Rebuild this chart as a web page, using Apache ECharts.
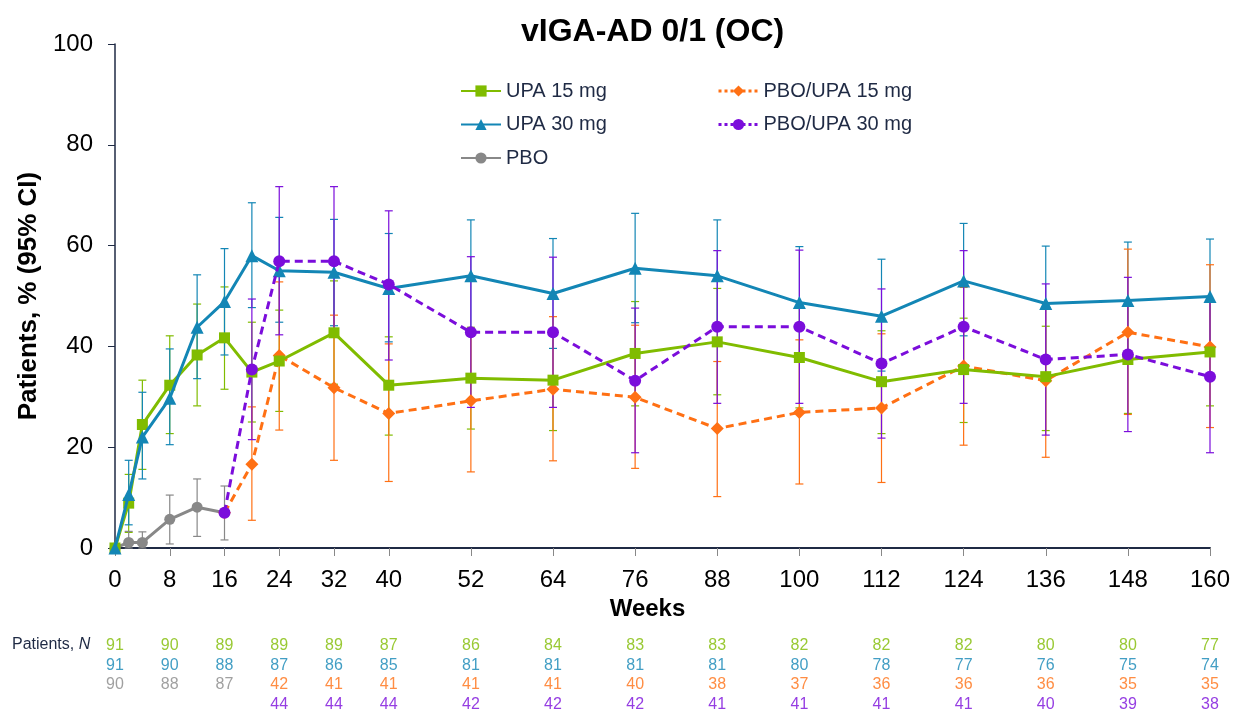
<!DOCTYPE html>
<html><head><meta charset="utf-8">
<script src="https://cdn.jsdelivr.net/npm/echarts@6/dist/echarts.min.js"></script>
<style>html,body{margin:0;padding:0;background:#fff}#c{width:1239px;height:715px}</style>
</head><body><div id="c"></div>
<script>
// ---- data ----
const tickWeeks = [0,8,16,24,32,40,52,64,76,88,100,112,124,136,148,160];
const upaWeeks = [0,2,4,8,12,16,20,24,32,40,52,64,76,88,100,112,124,136,148,160];
const upa15   = [0,8.9,24.5,32.3,38.3,41.7,34.9,37.1,42.7,32.3,33.7,33.3,38.6,40.9,37.8,33.0,35.4,34.0,37.4,38.9];
const upa15Lo = [0,3.1,15.6,22.7,28.2,31.5,25.0,27.1,32.5,22.4,23.6,23.3,28.2,30.4,27.8,22.7,24.9,23.3,26.7,28.2];
const upa15Hi = [0,14.6,33.3,42.1,48.4,51.8,44.8,47.2,53.0,41.9,43.8,43.3,48.9,51.5,47.8,43.1,45.6,44.0,48.2,49.5];
const upa30   = [0,10.6,22.0,29.7,43.8,48.9,58.0,55.0,54.7,51.5,54.0,50.5,55.5,54.0,48.7,46.0,53.0,48.5,49.1,49.9];
const upa30Lo = [0,4.6,13.7,20.5,33.6,38.3,47.7,44.8,44.1,40.9,43.0,39.6,44.7,43.2,37.8,35.1,42.1,37.5,38.0,38.5];
const upa30Hi = [0,17.4,30.9,39.5,54.2,59.4,68.5,65.6,65.2,62.4,65.1,61.4,66.4,65.1,59.8,57.3,64.4,59.9,60.7,61.3];
const pboWeeks = [0,2,4,8,12,16];
const pbo   = [0,1.1,1.1,5.7,8.1,7.0];
const pboLo = [0,0,0,0.8,2.3,1.6];
const pboHi = [0,3.3,3.2,10.5,13.7,12.3];
const swWeeks = [16,20,24,32,40,52,64,76,88,100,112,124,136,148,160];
const pboUpa15   = [7.0,16.6,38.2,31.8,26.7,29.2,31.5,29.9,23.7,26.9,27.8,36.1,33.2,42.8,39.9];
const pboUpa15Lo = [null,5.5,23.4,17.4,13.2,15.1,17.3,15.8,10.2,12.7,13.0,20.4,18.0,26.5,23.9];
const pboUpa15Hi = [null,28.0,52.8,46.2,40.5,43.3,45.9,44.2,37.0,41.3,42.5,51.7,48.4,59.3,56.2];
const pboUpa30   = [7.0,35.4,56.9,56.9,52.3,42.8,42.8,33.2,43.9,43.9,36.6,43.9,37.4,38.4,34.0];
const pboUpa30Lo = [null,21.5,42.3,42.0,37.3,27.9,27.9,18.9,28.7,28.7,21.8,28.7,22.4,23.1,18.9];
const pboUpa30Hi = [null,49.4,71.7,71.7,66.9,57.8,57.7,47.6,59.0,59.1,51.4,59.0,52.4,53.7,49.0];
// patients N table
const nWeeks = [0,8,16,24,32,40,52,64,76,88,100,112,124,136,148,160];
const nUpa15 = [91,90,89,89,89,87,86,84,83,83,82,82,82,80,80,77];
const nUpa30 = [91,90,88,87,86,85,81,81,81,81,80,78,77,76,75,74];
const nPboWeeks = [0,8,16];
const nPbo = [90,88,87];
const nSwWeeks = [24,32,40,52,64,76,88,100,112,124,136,148,160];
const nPboUpa15 = [42,41,41,41,41,40,38,37,36,36,36,35,35];
const nPboUpa30 = [44,44,44,42,42,42,41,41,41,41,40,39,38];

const C = {g:'#80BC00', b:'#1386B5', gr:'#888888', o:'#FF7014', p:'#7B0DDB'};
const FONT = '"Liberation Sans", Arial, sans-serif';

function pts(w, v){ return w.map((x,i)=>[x, v[i]]); }
function errPts(w, lo, hi){ const r=[]; w.forEach((x,i)=>{ if(lo[i]!=null && hi[i]>lo[i]) r.push([x,lo[i],hi[i]]); }); return r; }
function errSeries(name, data, color){
  return {type:'custom', name:name, xAxisIndex:0, yAxisIndex:0, z:1, silent:true,
    encode:{x:0, y:[1,2]}, data:data,
    renderItem:function(params, api){
      const x=api.value(0), lo=api.value(1), hi=api.value(2);
      const a=api.coord([x,hi]), b=api.coord([x,lo]); const w=4;
      const st={stroke:color, lineWidth:1.2};
      return {type:'group', children:[
        {type:'line', shape:{x1:a[0],y1:a[1],x2:b[0],y2:b[1]}, style:st},
        {type:'line', shape:{x1:a[0]-w,y1:a[1],x2:a[0]+w,y2:a[1]}, style:st},
        {type:'line', shape:{x1:b[0]-w,y1:b[1],x2:b[0]+w,y2:b[1]}, style:st}
      ]};
    }};
}
function lineSeries(name, data, color, symbol, size, dashed, z){
  return {type:'line', name:name, data:data, xAxisIndex:0, yAxisIndex:0, z:z,
    symbol:symbol, symbolSize:size, showSymbol:true,
    itemStyle:{color:color},
    lineStyle:{color:color, width:3, type: dashed ? [8,5] : 'solid'}};
}
function nSeries(name, w, v, row, color){
  return {type:'scatter', name:name, xAxisIndex:1, yAxisIndex:1, symbolSize:0,
    data:w.map((x,i)=>[x,row,v[i]]),
    label:{show:true, position:'inside', formatter:p=>String(p.value[2]), color:color, fontSize:16, fontFamily:FONT}};
}

const chart = echarts.init(document.getElementById('c'));
chart.setOption({
  animation:false,
  title:{text:'vIGA-AD 0/1 (OC)', left:516, top:11, textStyle:{fontSize:32, fontWeight:'bold', color:'#000', fontFamily:FONT}},
  legend:[
    {data:['UPA 15 mg','UPA 30 mg','PBO'], orient:'vertical', left:455, top:76, itemWidth:40, itemHeight:14, itemGap:13.5,
     textStyle:{fontSize:20, color:'#1F2A44', fontFamily:FONT}},
    {data:['PBO/UPA 15 mg','PBO/UPA 30 mg'], orient:'vertical', left:712, top:76, itemWidth:40, itemHeight:14, itemGap:13.5,
     lineStyle:{type:'dotted', width:3},
     textStyle:{fontSize:20, color:'#1F2A44', fontFamily:FONT}}
  ],
  grid:[
    {left:115, right:29, top:44, bottom:167},
    {left:115, right:29, top:636, height:78}
  ],
  xAxis:[
    {type:'value', gridIndex:0, min:0, max:160,
     name:'Weeks', nameLocation:'middle', nameGap:48,
     nameTextStyle:{fontSize:24, fontWeight:'bold', color:'#000', fontFamily:FONT, padding:[0,30,0,0]},
     axisLine:{lineStyle:{color:'#1F2A44', width:2}},
     axisTick:{show:true, length:8, lineStyle:{color:'#888'}, customValues:tickWeeks},
     axisLabel:{fontSize:24, color:'#000', fontFamily:FONT, margin:20, customValues:tickWeeks},
     splitLine:{show:false}},
    {type:'value', gridIndex:1, min:0, max:160, show:false}
  ],
  yAxis:[
    {type:'value', gridIndex:0, min:0, max:100, interval:20,
     name:'Patients, % (95% CI)', nameLocation:'middle', nameGap:70, nameRotate:90,
     nameTextStyle:{fontSize:26, fontWeight:'bold', color:'#000', fontFamily:FONT},
     axisLine:{show:true, lineStyle:{color:'#1F2A44', width:1.5}},
     axisTick:{show:true, length:7, lineStyle:{color:'#1F2A44'}},
     axisLabel:{fontSize:24, color:'#000', fontFamily:FONT, margin:22},
     splitLine:{show:false}},
    {type:'category', gridIndex:1, data:['r0','r1','r2','r3'], inverse:true, show:false}
  ],
  graphic:[
    {type:'text', left:12, top:637, style:{text:'{a|Patients, }{b|N}',
      rich:{a:{fontSize:16, fill:'#1F2A44', fontFamily:FONT}, b:{fontSize:16, fill:'#1F2A44', fontStyle:'italic', fontFamily:FONT}}}}
  ],
  series:[
    errSeries('e15', errPts(upaWeeks, upa15Lo, upa15Hi), C.g),
    errSeries('e30', errPts(upaWeeks, upa30Lo, upa30Hi), C.b),
    errSeries('ep', errPts(pboWeeks, pboLo, pboHi), C.gr),
    errSeries('eo', errPts(swWeeks, pboUpa15Lo, pboUpa15Hi), C.o),
    errSeries('epu', errPts(swWeeks, pboUpa30Lo, pboUpa30Hi), C.p),
    lineSeries('PBO', pts(pboWeeks, pbo), C.gr, 'circle', 11, false, 3),
    lineSeries('PBO/UPA 15 mg', pts(swWeeks, pboUpa15), C.o, 'diamond', 13, true, 4),
    lineSeries('UPA 15 mg', pts(upaWeeks, upa15), C.g, 'rect', 11, false, 5),
    lineSeries('UPA 30 mg', pts(upaWeeks, upa30), C.b, 'triangle', 13, false, 6),
    lineSeries('PBO/UPA 30 mg', pts(swWeeks, pboUpa30), C.p, 'circle', 12, true, 7),
    nSeries('nA', nWeeks, nUpa15, 0, C.g),
    nSeries('nB', nWeeks, nUpa30, 1, C.b),
    nSeries('nC', nPboWeeks, nPbo, 2, C.gr),
    nSeries('nD', nSwWeeks, nPboUpa15, 2, C.o),
    nSeries('nE', nSwWeeks, nPboUpa30, 3, C.p)
  ]
});
</script></body></html>
